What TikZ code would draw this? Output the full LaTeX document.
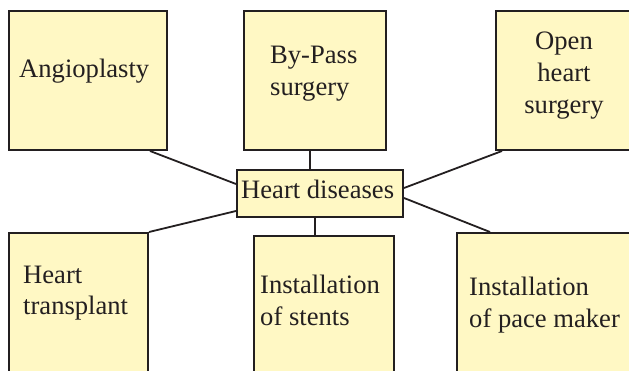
\documentclass[tikz,border=0pt]{standalone}
\usepackage{fontspec}
\setmainfont{Liberation Serif}
\definecolor{boxfill}{RGB}{255,248,196}
\definecolor{ink}{RGB}{35,31,32}
\begin{document}
\begin{tikzpicture}[x=1pt,y=-1pt,
  box/.style={draw=ink, line width=2pt, fill=boxfill, inner sep=0pt, anchor=north west},
  lbl/.style={anchor=base west, inner sep=0pt, align=left, font=\fontsize{26.6}{32}\selectfont, text=ink},
  link/.style={draw=ink, line width=1.8pt}]
\useasboundingbox (0,0) rectangle (629,371);
\clip (0,0) rectangle (629,371);
% boxes
\node[box, minimum width=158pt, minimum height=139pt] (ang) at (8,10) {};
\node[box, minimum width=142pt, minimum height=139pt] (bp) at (243,10) {};
\node[box, minimum width=140pt, minimum height=139pt] (oh) at (495,10) {};
\node[box, minimum width=166pt, minimum height=47pt] (hd) at (236,169) {};
\node[box, minimum width=139pt, minimum height=150pt] (ht) at (8,232) {};
\node[box, minimum width=140pt, minimum height=150pt] (st) at (253,235) {};
\node[box, minimum width=180pt, minimum height=150pt] (pm) at (456,232) {};
% labels (base anchor = baseline of the last line)
\node[lbl] (tang) at (19,78) {Angioplasty};
\node[lbl] (tbp) at (270,96) {By-Pass\\surgery};
\node[lbl, anchor=base, align=center] (toh) at (564,114) {Open\\heart\\surgery};
\node[lbl] (thd) at (241,199) {Heart diseases};
\node[lbl] (tht) at (23,315) {Heart\\transplant};
\node[lbl] (tst) at (260,325) {Installation\\of stents};
\node[lbl] (tpm) at (469,327) {Installation\\of pace maker};
% connectors
\draw[link] ([xshift=-18pt]ang.south east) -- ([yshift=9.5pt]hd.west);
\draw[link] ([xshift=-5pt]bp.south) -- ([xshift=-5pt]bp.south |- hd.north);
\draw[link] ([xshift=7pt]oh.south west) -- ([yshift=5.5pt]hd.east);
\draw[link] (ht.north east) -- ([yshift=-17.5pt]hd.west);
\draw[link] ([xshift=-5pt]hd.south) -- ([xshift=-5pt]hd.south |- st.north);
\draw[link] ([yshift=-4.5pt]hd.east) -- ([xshift=34pt]pm.north west);
\end{tikzpicture}
\end{document}
